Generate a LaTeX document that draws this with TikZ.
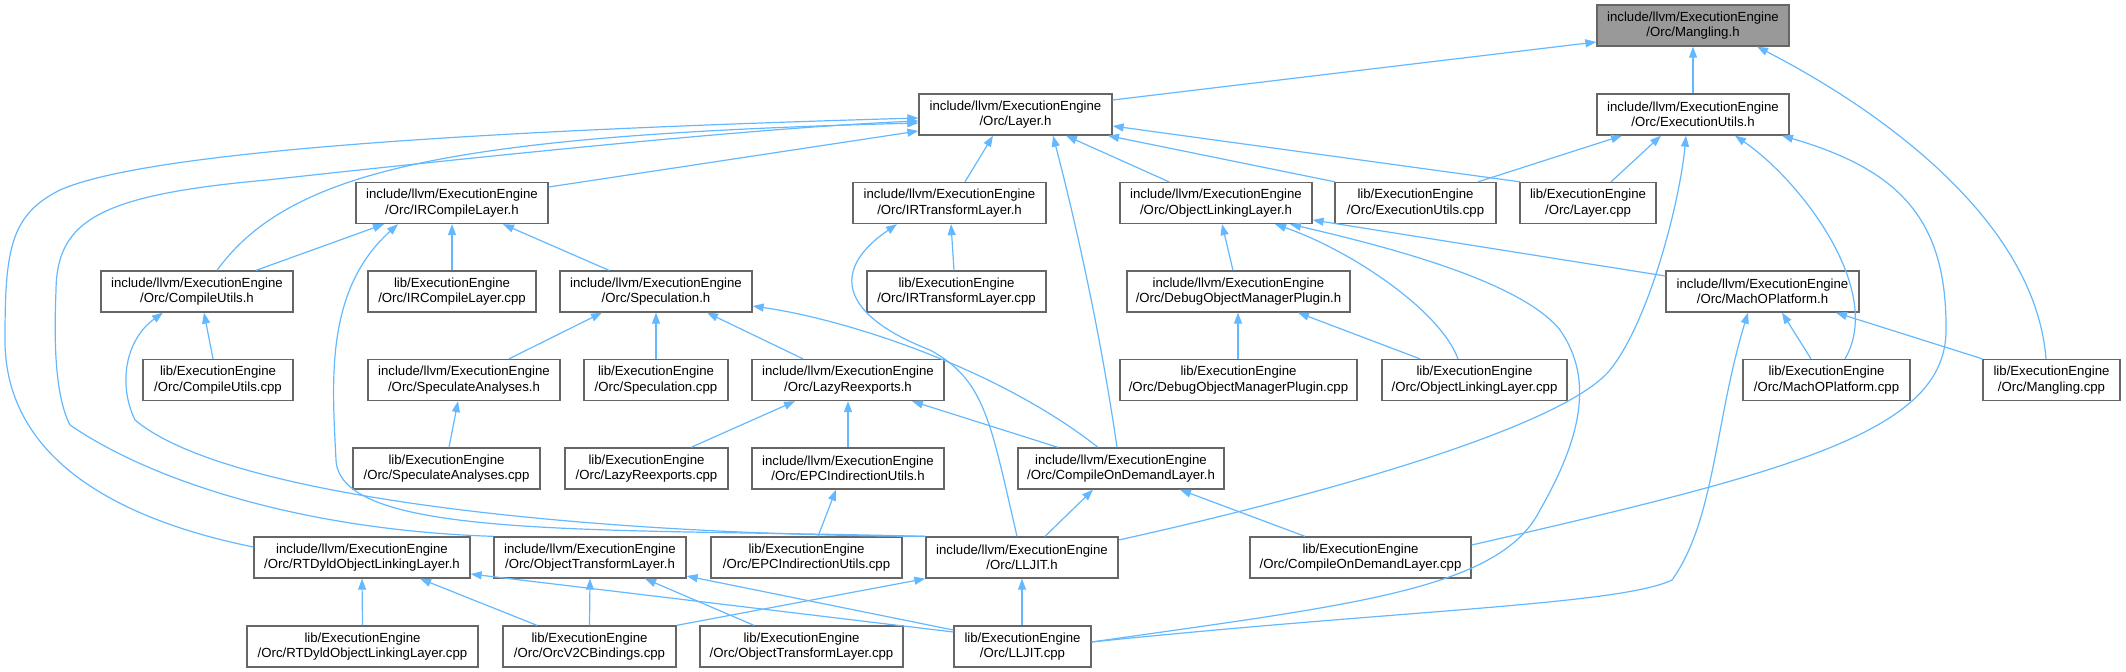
\documentclass[tikz,border=0pt]{standalone}
\usepackage{fontspec}
\setmainfont{Liberation Sans}
\usetikzlibrary{arrows.meta}
\definecolor{edgec}{HTML}{63B8FF}
\definecolor{boxc}{HTML}{666666}
\definecolor{hlc}{HTML}{999999}
\tikzset{
  box/.style={draw=boxc, line width=1.3pt, fill=white, minimum height=41pt, inner sep=0pt, align=center, font=\fontsize{13.2}{15.5}\selectfont},
  hlbox/.style={box, fill=hlc},
  edge/.style={draw=edgec, line width=1.2pt, -{Triangle[length=11pt,width=8pt]}},
}
\newcommand{\nd}[6][box]{\node[#1, minimum width={(#4-#3)*1pt}] (#2) at ({(#3+#4)/2},#5) {#6};}
\begin{document}
\begin{tikzpicture}[x=1pt,y=-1pt]
\useasboundingbox (0,0) rectangle (2126,672);
% row centres: 25.5 114.5 203 291.5 380 468.5 557.5 646.5
\nd[hlbox]{mh}{1597}{1789}{25.5}{include/llvm/ExecutionEngine\\/Orc/Mangling.h}
\nd{lh}{919}{1112}{114.5}{include/llvm/ExecutionEngine\\/Orc/Layer.h}
\nd{euh}{1597}{1789}{114.5}{include/llvm/ExecutionEngine\\/Orc/ExecutionUtils.h}
\nd{irch}{356}{548}{203}{include/llvm/ExecutionEngine\\/Orc/IRCompileLayer.h}
\nd{irth}{853}{1046}{203}{include/llvm/ExecutionEngine\\/Orc/IRTransformLayer.h}
\nd{olh}{1120}{1312}{203}{include/llvm/ExecutionEngine\\/Orc/ObjectLinkingLayer.h}
\nd{euc}{1335}{1496}{203}{lib/ExecutionEngine\\/Orc/ExecutionUtils.cpp}
\nd{lc}{1520}{1656}{203}{lib/ExecutionEngine\\/Orc/Layer.cpp}
\nd{cuh}{101}{293}{291.5}{include/llvm/ExecutionEngine\\/Orc/CompileUtils.h}
\nd{ircc}{368}{536}{291.5}{lib/ExecutionEngine\\/Orc/IRCompileLayer.cpp}
\nd{sh}{560}{752}{291.5}{include/llvm/ExecutionEngine\\/Orc/Speculation.h}
\nd{irtc}{867}{1046}{291.5}{lib/ExecutionEngine\\/Orc/IRTransformLayer.cpp}
\nd{domh}{1127}{1350}{291.5}{include/llvm/ExecutionEngine\\/Orc/DebugObjectManagerPlugin.h}
\nd{mph}{1666}{1859}{291.5}{include/llvm/ExecutionEngine\\/Orc/MachOPlatform.h}
\nd{cuc}{143}{293}{380}{lib/ExecutionEngine\\/Orc/CompileUtils.cpp}
\nd{sah}{368}{560}{380}{include/llvm/ExecutionEngine\\/Orc/SpeculateAnalyses.h}
\nd{sc}{584}{728}{380}{lib/ExecutionEngine\\/Orc/Speculation.cpp}
\nd{lrh}{752}{944}{380}{include/llvm/ExecutionEngine\\/Orc/LazyReexports.h}
\nd{domc}{1120}{1357}{380}{lib/ExecutionEngine\\/Orc/DebugObjectManagerPlugin.cpp}
\nd{olc}{1382}{1567}{380}{lib/ExecutionEngine\\/Orc/ObjectLinkingLayer.cpp}
\nd{mpc}{1743}{1910}{380}{lib/ExecutionEngine\\/Orc/MachOPlatform.cpp}
\nd{mc}{1983}{2120}{380}{lib/ExecutionEngine\\/Orc/Mangling.cpp}
\nd{sac}{353}{540}{468.5}{lib/ExecutionEngine\\/Orc/SpeculateAnalyses.cpp}
\nd{lrc}{565}{728}{468.5}{lib/ExecutionEngine\\/Orc/LazyReexports.cpp}
\nd{epch}{752}{944}{468.5}{include/llvm/ExecutionEngine\\/Orc/EPCIndirectionUtils.h}
\nd{codh}{1018}{1224}{468.5}{include/llvm/ExecutionEngine\\/Orc/CompileOnDemandLayer.h}
\nd{rth}{254}{470}{557.5}{include/llvm/ExecutionEngine\\/Orc/RTDyldObjectLinkingLayer.h}
\nd{oth}{494}{686}{557.5}{include/llvm/ExecutionEngine\\/Orc/ObjectTransformLayer.h}
\nd{epcc}{711}{902}{557.5}{lib/ExecutionEngine\\/Orc/EPCIndirectionUtils.cpp}
\nd{ljh}{926}{1118}{557.5}{include/llvm/ExecutionEngine\\/Orc/LLJIT.h}
\nd{codc}{1250}{1471}{557.5}{lib/ExecutionEngine\\/Orc/CompileOnDemandLayer.cpp}
\nd{rtc}{247}{478}{646.5}{lib/ExecutionEngine\\/Orc/RTDyldObjectLinkingLayer.cpp}
\nd{ovc}{503}{676}{646.5}{lib/ExecutionEngine\\/Orc/OrcV2CBindings.cpp}
\nd{otc}{700}{903}{646.5}{lib/ExecutionEngine\\/Orc/ObjectTransformLayer.cpp}
\nd{ljc}{954}{1091}{646.5}{lib/ExecutionEngine\\/Orc/LLJIT.cpp}

% Mangling.h
\draw[edge] (lh.east |- 0,100) -- (mh.west |- 0,42);
\draw[edge] (euh.north) -- (mh.south);
\draw[edge] (mc.north -| 2046,0) .. controls (2035,220) and (1880,110) .. (mh.south -| 1757,0);
% Layer.h
\draw[edge] (irch.east |- 0,187) -- (lh.west |- 0,131);
\draw[edge] (cuh.north -| 217,0) .. controls (290,170) and (450,135) .. (lh.west |- 0,123);
\draw[edge] (rth.west |- 0,547) .. controls (120,520) and (5,460) .. (5,340) .. controls (5,250) and (10,215) .. (60,190) .. controls (150,150) and (500,130) .. (lh.west |- 0,118);
\draw[edge] (oth.north west) .. controls (300,530) and (150,480) .. (70,425) .. controls (52,390) and (55,320) .. (56,290) .. controls (57,220) and (100,195) .. (267,180) .. controls (450,160) and (750,128) .. (lh.west |- 0,121);
\draw[edge] (irth.north -| 965,0) -- (lh.south -| 993,0);
\draw[edge] (codh.north -| 1117,0) .. controls (1100,330) and (1075,220) .. (lh.south -| 1053,0);
\draw[edge] (olh.north -| 1169,0) -- (lh.south -| 1066,0);
\draw[edge] (euc.north -| 1335,0) -- (lh.south -| 1108,0);
\draw[edge] (lc.north -| 1520,0) -- (lh.east |- 0,126);
% ExecutionUtils.h
\draw[edge] (euc.north -| 1478,0) -- (euh.south -| 1622,0);
\draw[edge] (lc.north -| 1611,0) -- (euh.south -| 1661,0);
\draw[edge] (ljh.east |- 0,540) .. controls (1300,500) and (1560,430) .. (1610,370) .. controls (1650,320) and (1680,200) .. (euh.south -| 1686,0);
\draw[edge] (mpc.north -| 1845,0) .. controls (1885,290) and (1800,180) .. (euh.south -| 1735,0);
\draw[edge] (codc.east |- 0,545) .. controls (1800,470) and (1946,430) .. (1946,330) .. controls (1947,220) and (1900,170) .. (euh.south -| 1782,0);
% ObjectLinkingLayer.h
\draw[edge] (domh.north -| 1233,0) -- (olh.south -| 1222,0);
\draw[edge] (olc.north -| 1458,0) .. controls (1440,310) and (1350,250) .. (olh.south -| 1275,0);
\draw[edge] (ljc.east |- 0,642) .. controls (1350,605) and (1500,590) .. (1540,510) .. controls (1580,440) and (1595,380) .. (1560,330) .. controls (1520,280) and (1380,245) .. (olh.south -| 1290,0);
\draw[edge] (mph.west |- 0,276) -- (olh.east |- 0,220);
% DebugObjectManagerPlugin.h
\draw[edge] (domc.north -| 1238,0) -- (domh.south -| 1238,0);
\draw[edge] (olc.north -| 1420,0) -- (domh.south -| 1298,0);
% MachOPlatform.h
\draw[edge] (mpc.north -| 1811,0) -- (mph.south -| 1782,0);
\draw[edge] (ljc.east |- 0,642) .. controls (1400,610) and (1620,605) .. (1672,580) .. controls (1715,520) and (1715,420) .. (mph.south -| 1748,0);
\draw[edge] (mc.north west) -- (mph.south -| 1836,0);
% IRCompileLayer.h
\draw[edge] (cuh.north -| 256,0) -- (irch.south -| 384,0);
\draw[edge] (ircc.north) -- (irch.south);
\draw[edge] (sh.north -| 609,0) -- (irch.south -| 503,0);
\draw[edge] (ljh.north west) .. controls (600,528) and (340,540) .. (336,460) .. controls (332,380) and (325,290) .. (irch.south -| 398,0);
% IRTransformLayer.h
\draw[edge] (irtc.north -| 954,0) -- (irth.south -| 951,0);
\draw[edge] (ljh.north -| 1017,0) .. controls (990,420) and (985,380) .. (930,350) .. controls (840,315) and (830,270) .. (irth.south -| 897,0);
% Speculation.h
\draw[edge] (sah.north -| 509,0) -- (sh.south -| 602,0);
\draw[edge] (sc.north) -- (sh.south);
\draw[edge] (lrh.north -| 803,0) -- (sh.south -| 707,0);
\draw[edge] (codh.north -| 1098,0) .. controls (1000,370) and (850,320) .. (sh.east |- 0,306);
% SpeculateAnalyses.h, LazyReexports.h, EPCIndirectionUtils.h
\draw[edge] (sac.north -| 449,0) -- (sah.south -| 458,0);
\draw[edge] (lrc.north -| 691,0) -- (lrh.south -| 795,0);
\draw[edge] (epch.north) -- (lrh.south);
\draw[edge] (codh.north -| 1058,0) -- (lrh.south -| 912,0);
\draw[edge] (epcc.north -| 818,0) -- (epch.south -| 836,0);
% CompileOnDemandLayer.h
\draw[edge] (ljh.north -| 1045,0) -- (codh.south -| 1093,0);
\draw[edge] (codc.north -| 1305,0) -- (codh.south -| 1180,0);
% LLJIT.h
\draw[edge] (ljc.north -| 1022,0) -- (ljh.south -| 1022,0);
\draw[edge] (ovc.north east) -- (ljh.south west);
% RTDyldObjectLinkingLayer.h
\draw[edge] (rtc.north) -- (rth.south);
\draw[edge] (ovc.north -| 537,0) -- (rth.south -| 420,0);
\draw[edge] (ljc.west |- 0,632) -- (rth.east |- 0,574);
% ObjectTransformLayer.h
\draw[edge] (ovc.north) -- (oth.south);
\draw[edge] (otc.north -| 754,0) -- (oth.south -| 645,0);
\draw[edge] (ljc.west |- 0,630) -- (oth.east |- 0,576);
% CompileUtils.h
\draw[edge] (cuc.north -| 213,0) -- (cuh.south -| 204,0);
\draw[edge] (ljh.north west) .. controls (600,535) and (230,500) .. (135,420) .. controls (118,385) and (125,340) .. (cuh.south -| 163,0);
\end{tikzpicture}
\end{document}
